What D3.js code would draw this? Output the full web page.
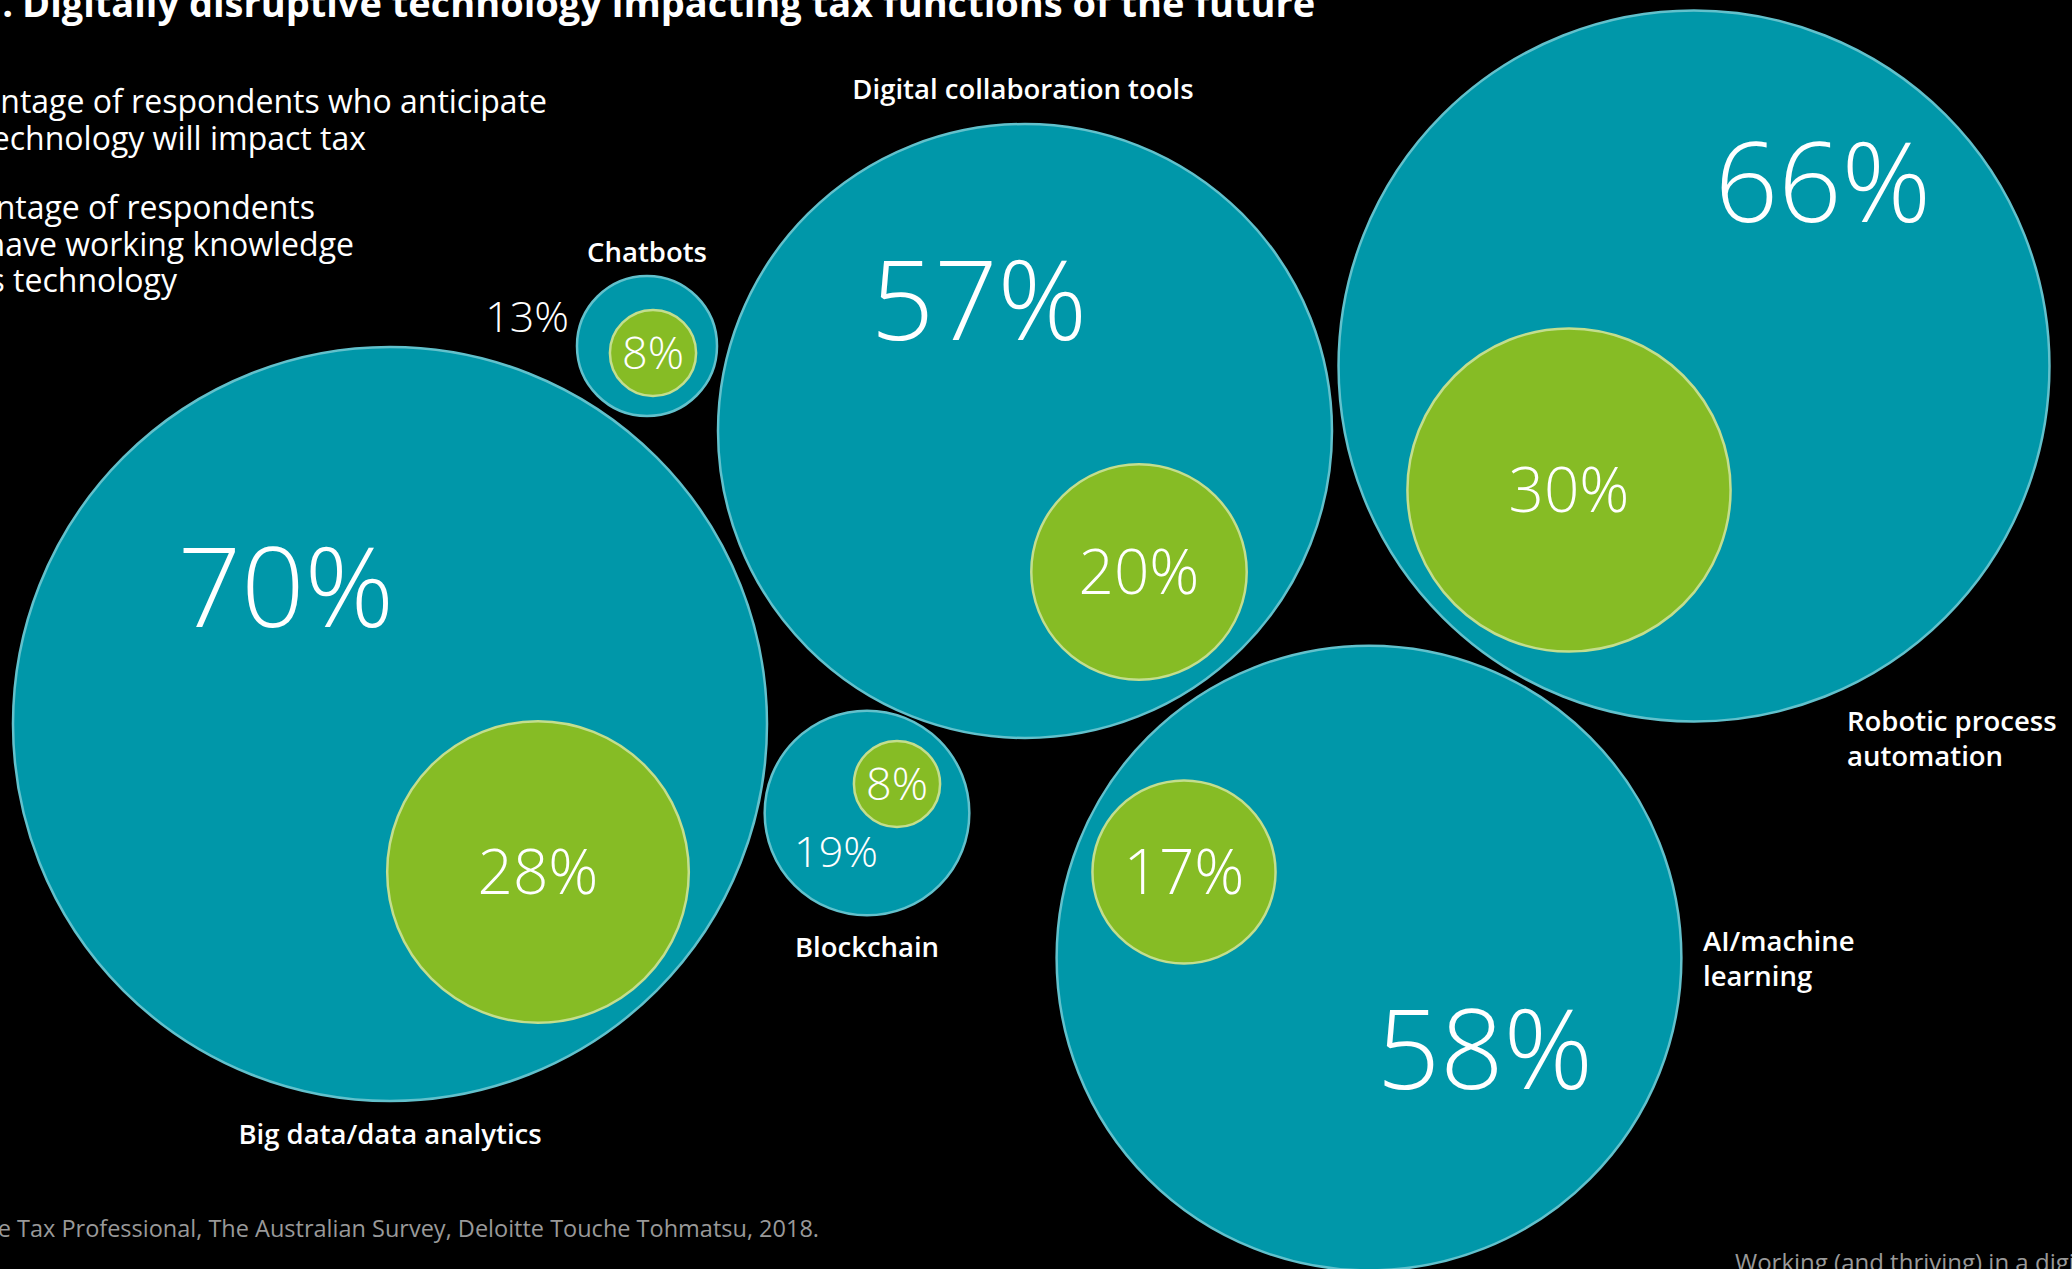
<!DOCTYPE html>
<html>
<head>
<meta charset="utf-8">
<script src="https://cdn.jsdelivr.net/npm/d3@7"></script>
<style>
  body { margin: 0; background: #000; }
  svg { display: block; font-family: "Open Sans", sans-serif; }
</style>
</head>
<body>
<div id="chart"></div>
<script>
(function bubbles() {

  const width = 2072,
    height = 1269;

  // survey values (%)
  const techs = ["Big data/data analytics", "Chatbots", "Digital collaboration tools",
    "Blockchain", "Robotic process automation", "AI/machine learning"];
  const impact = [70, 13, 57, 19, 66, 58];
  const knowledge = [28, 8, 20, 8, 30, 17];

  // hand placed layout, one entry per tech
  const layout = [
    { c: [390, 724], inner: [538, 872], big: [286, 627, "middle"], name: [390, 1144, "middle"], lines: ["Big data/data analytics"] },
    { c: [647, 346], inner: [653, 353], big: [569, 332, "end"], name: [647, 262, "middle"], lines: ["Chatbots"] },
    { c: [1025, 431], inner: [1139, 572], big: [979, 340, "middle"], name: [1023, 99, "middle"], lines: ["Digital collaboration tools"] },
    { c: [867, 813], inner: [897, 784], big: [836, 867, "middle"], name: [867, 957, "middle"], lines: ["Blockchain"] },
    { c: [1694, 366], inner: [1569, 490], big: [1823, 222, "middle"], name: [1847, 731, "start"], lines: ["Robotic process", "automation"] },
    { c: [1369, 958], inner: [1184, 872], big: [1485, 1089, "middle"], name: [1703, 951, "start"], lines: ["AI/machine", "learning"] }
  ];

  const r = d3.scaleLinear().domain([0, 70]).range([0, 377]);
  const bigSize = d3.scaleThreshold().domain([30]).range([43, 111]);
  const innerSize = d3.scaleThreshold().domain([10]).range([45, 62]);

  const data = techs.map((t, i) => ({ tech: t, impact: impact[i], knowledge: knowledge[i], ...layout[i] }));

  const svg = d3.select("#chart")
    .append("svg")
    .attr("width", width)
    .attr("height", height)
    .attr("viewBox", [0, 0, width, height]);

  svg.append("rect").attr("width", width).attr("height", height).attr("fill", "#000");

  // title (cropped at the top/left like the source)
  svg.append("text")
    .attr("x", 13).attr("y", 17)
    .attr("text-anchor", "end")
    .attr("fill", "#fff").attr("font-weight", 700).attr("font-size", 38)
    .text("Figure 1.");
  svg.append("text")
    .attr("x", 22).attr("y", 17)
    .attr("fill", "#fff").attr("font-weight", 700).attr("font-size", 38)
    .text("Digitally disruptive technology impacting tax functions of the future");

  // legend text
  const legendLines = [
    ["Percentage of respondents who anticipate", 547, 113],
    ["this technology will impact tax", 366, 150],
    ["Percentage of respondents", 315, 219],
    ["who have working knowledge", 354, 256],
    ["of this technology", 177, 292]
  ];
  svg.append("g")
    .selectAll("text")
    .data(legendLines)
    .join("text")
    .attr("x", d => d[1])
    .attr("y", d => d[2])
    .attr("text-anchor", "end")
    .attr("fill", "#fff")
    .attr("font-size", 32)
    .text(d => d[0]);

  const g = svg.append("g")
    .selectAll("g")
    .data(data)
    .join("g");

  g.append("circle")
    .attr("cx", d => d.c[0])
    .attr("cy", d => d.c[1])
    .attr("r", d => r(d.impact))
    .attr("fill", "#0097a9")
    .attr("stroke", "#62c1cc")
    .attr("stroke-width", 2.5);

  g.append("circle")
    .attr("cx", d => d.inner[0])
    .attr("cy", d => d.inner[1])
    .attr("r", d => r(d.knowledge))
    .attr("fill", "#86bc25")
    .attr("stroke", "#c3de8e")
    .attr("stroke-width", 2.5);

  g.append("text")
    .attr("x", d => d.big[0])
    .attr("y", d => d.big[1])
    .attr("text-anchor", d => d.big[2])
    .attr("fill", "#fff")
    .attr("font-weight", 300)
    .attr("font-size", d => bigSize(d.impact))
    .text(d => d.impact + "%");

  g.append("text")
    .attr("x", d => d.inner[0])
    .attr("y", d => d.inner[1] + innerSize(d.knowledge) * 0.36)
    .attr("text-anchor", "middle")
    .attr("fill", "#fff")
    .attr("font-weight", 300)
    .attr("font-size", d => innerSize(d.knowledge))
    .text(d => d.knowledge + "%");

  g.append("text")
    .attr("x", d => d.name[0])
    .attr("y", d => d.name[1])
    .attr("text-anchor", d => d.name[2])
    .attr("fill", "#fff")
    .attr("font-weight", 600)
    .attr("font-size", 27.5)
    .selectAll("tspan")
    .data(d => d.lines.map(l => [l, d.name[0]]))
    .join("tspan")
    .attr("x", d => d[1])
    .attr("dy", (d, i) => i ? 35 : 0)
    .text(d => d[0]);

  // footer
  svg.append("text")
    .attr("x", 819).attr("y", 1237)
    .attr("text-anchor", "end")
    .attr("fill", "#999").attr("font-size", 23.5)
    .text("Source: The Future Tax Professional, The Australian Survey, Deloitte Touche Tohmatsu, 2018.");
  svg.append("text")
    .attr("x", 1735).attr("y", 1271)
    .attr("fill", "#999").attr("font-size", 24)
    .text("Working (and thriving) in a digital tax world");

})();
</script>
</body>
</html>
